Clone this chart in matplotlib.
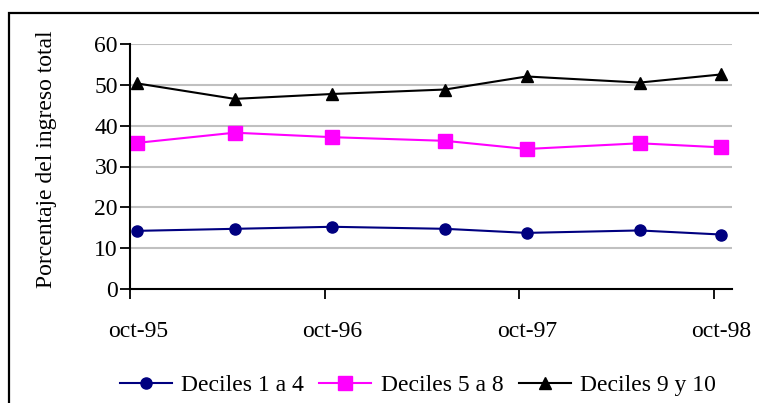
import matplotlib

matplotlib.use("Agg")
import matplotlib.dates as mdates
import matplotlib.pyplot as plt
import matplotlib.transforms as mtransforms
import numpy as np
from matplotlib.patches import Rectangle

plt.rcParams["font.family"] = ["Liberation Serif", "DejaVu Serif"]

# survey rounds (EPH, October / May waves)
dates = np.array(["1995-10-15", "1996-04-15", "1996-10-15", "1997-05-15",
                  "1997-10-15", "1998-05-15", "1998-10-15"], dtype="datetime64[D]")
dec_1_4 = [14.2, 14.7, 15.2, 14.7, 13.7, 14.3, 13.3]
dec_5_8 = [35.8, 38.3, 37.2, 36.3, 34.3, 35.7, 34.7]
dec_9_10 = [50.4, 46.6, 47.8, 48.9, 52.1, 50.6, 52.6]

tick_dates = np.array(["1995-10-01", "1996-10-01", "1997-10-01", "1998-10-01"],
                      dtype="datetime64[D]")
tick_labels = ["oct-95", "oct-96", "oct-97", "oct-98"]
yticks = [0, 10, 20, 30, 40, 50, 60]

NAVY, MAGENTA, BLACK, GRID = "#000080", "#ff00ff", "#000000", "#c0c0c0"
FS = 17

W, H = 759, 403
fig = plt.figure(figsize=(W / 100, H / 100), dpi=100)
ax = fig.add_axes([129.7 / W, 1 - 288.7 / H, (731.7 - 129.7) / W, (288.7 - 44.3) / H])

ax.plot(dates, dec_1_4, color=NAVY, lw=1.5, marker="o", ms=8, label="Deciles 1 a 4")
ax.plot(dates, dec_5_8, color=MAGENTA, lw=1.5, marker="s", ms=9.5, label="Deciles 5 a 8")
ax.plot(dates, dec_9_10, color=BLACK, lw=1.5, marker="^", ms=8.5, label="Deciles 9 y 10")

ax.set_ylim(0, 60)
ax.set_yticks(yticks)
ax.set_xlim(np.datetime64("1995-10-01"), np.datetime64("1998-11-04"))
ax.set_xticks(mdates.date2num(tick_dates))
ax.set_xticklabels(tick_labels)

for y in yticks[1:]:
    ax.axhline(y, color=GRID, lw=1.5, zorder=0)

ax.spines[["top", "right"]].set_visible(False)
for s in ("left", "bottom"):
    ax.spines[s].set_linewidth(1.5)
ax.tick_params(axis="both", direction="out", length=7, width=1.3, labelsize=FS)
ax.tick_params(axis="y", pad=1.5)
ax.tick_params(axis="x", pad=16)

# labels sit a little to the right of their tick
off = mtransforms.ScaledTranslation(8 / 100, 0, fig.dpi_scale_trans)
for lab in ax.get_xticklabels():
    lab.set_transform(lab.get_transform() + off)

ax.set_ylabel("Porcentaje del ingreso total", fontsize=FS)
ax.yaxis.set_label_coords(-0.121, 0.53)

fig.legend(loc="center", bbox_to_anchor=(418 / W, 1 - 385 / H), ncol=3, frameon=False,
           fontsize=FS, handlelength=2.2, handletextpad=0.4, columnspacing=0.65)

fig.add_artist(Rectangle((8.5 / W, -0.1), 1.2, 1 - 12.5 / H + 0.1,
                         transform=fig.transFigure, fill=False, ec="black", lw=1.6))

fig.savefig("out.png", dpi=100)
